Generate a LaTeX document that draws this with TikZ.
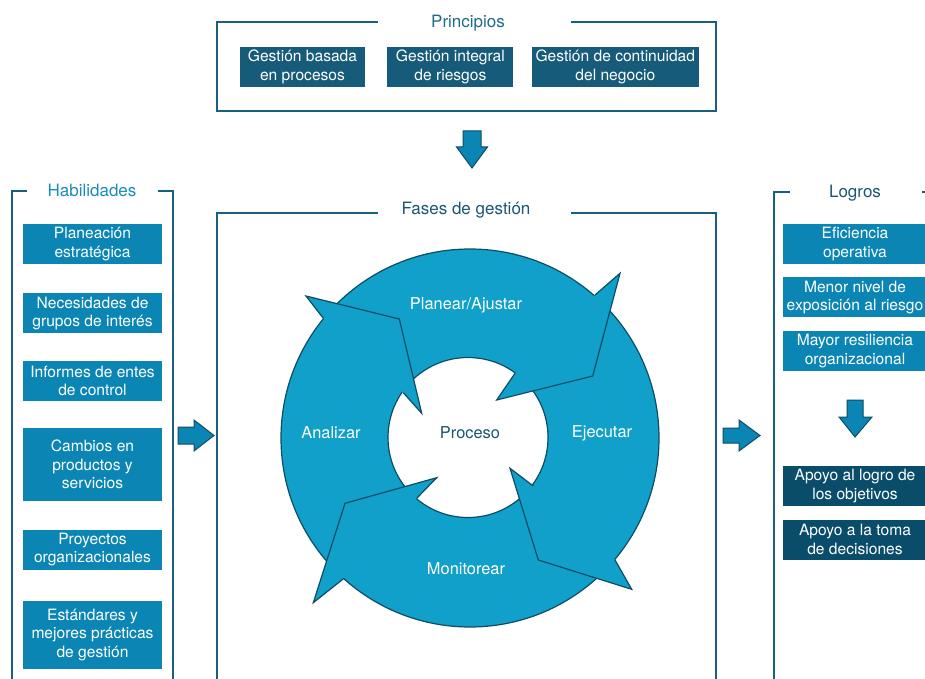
\documentclass[tikz,border=0pt]{standalone}
\usepackage{fontspec}
\setmainfont{TeX Gyre Heros}
\usetikzlibrary{positioning}
\definecolor{frameline}{HTML}{1A5F80}
\definecolor{principio}{HTML}{175B7A}
\definecolor{habilidad}{HTML}{0B86B4}
\definecolor{logrooscuro}{HTML}{0A4D6B}
\definecolor{ciclo}{HTML}{11A0C9}
\definecolor{cicloborde}{HTML}{0E4C66}
\definecolor{titulooscuro}{HTML}{1C5573}
\definecolor{titulomedio}{HTML}{1E6A8C}
\definecolor{tituloclaro}{HTML}{1B8BBA}

\begin{document}
\begin{tikzpicture}[
            x=1pt, y=-1pt,
            node distance=28pt,
            frame/.style = {draw=frameline, line width=2pt},
            title/.style = {font=\fontsize{17}{20}\selectfont, anchor=base},
            box/.style = {fill=habilidad, text=white, align=center, inner sep=0pt, minimum height=40pt, font=\fontsize{15.6}{18.5}\selectfont},
            phase/.style = {text=white, font=\fontsize{16.4}{19}\selectfont},
            bigarrow/.style = {fill=habilidad, draw=cicloborde, line width=1pt, line join=miter}
          ]
          \useasboundingbox (0,0) rectangle (925,679);

          % frames
          \draw[frame] (378,22) -- (217,22) -- (217,111) -- (716,111) -- (716,22) -- (571,22);
          \draw[frame] (378,213) -- (217,213) -- (217,690);
          \draw[frame] (571,213) -- (716,213) -- (716,690);
          \draw[frame] (27,191) -- (12,191) -- (12,690);
          \draw[frame] (158,191) -- (173,191) -- (173,690);
          \draw[frame] (790,192) -- (774,192) -- (774,690);
          \draw[frame] (922,192) -- (940,192);

          \node[title, text=titulomedio] (principios) at (468,28) {Principios};
          \node[title, text=titulooscuro] (fases) at (466,214) {Fases de gestión};
          \node[title, text=tituloclaro] (habilidades) at (92,196) {Habilidades};
          \node[title, text=titulooscuro] (logros) at (855,197) {Logros};

          % principios
          \node[box, fill=principio, minimum width=125pt] (basada) at (302.5,67) {Gestión basada\\en procesos};
          \node[box, fill=principio, minimum width=126pt, right=22pt of basada] (integral) {Gestión integral\\de riesgos};
          \node[box, fill=principio, minimum width=167pt, right=18pt of integral] (continuidad) {Gestión de continuidad\\del negocio};

          % habilidades
          \node[box, minimum width=139pt] (planeacion) at (92.5,244) {Planeación\\estratégica};
          \node[box, minimum width=139pt, below=29pt of planeacion] (necesidades) {Necesidades de\\grupos de interés};
          \node[box, minimum width=139pt, below=27pt of necesidades] (informes) {Informes de entes\\de control};
          \node[box, minimum width=139pt, minimum height=73pt, below=27pt of informes] (cambios) {Cambios en\\productos y\\servicios};
          \node[box, minimum width=139pt, below=28pt of cambios] (proyectos) {Proyectos\\organizacionales};
          \node[box, minimum width=139pt, minimum height=68pt, below=31pt of proyectos] (estandares) {Estándares y\\mejores prácticas\\de gestión};

          % logros
          \node[box, minimum width=144pt] (eficiencia) at (855,244) {Eficiencia\\operativa};
          \node[box, minimum width=144pt, below=13pt of eficiencia] (menor) {Menor nivel de\\exposición al riesgo};
          \node[box, minimum width=144pt, below=13pt of menor] (mayor) {Mayor resiliencia\\organizacional};
          \node[box, fill=logrooscuro, minimum width=144pt, below=95pt of mayor] (apoyologro) {Apoyo al logro de\\los objetivos};
          \node[box, fill=logrooscuro, minimum width=144pt, below=13pt of apoyologro] (apoyotoma) {Apoyo a la toma\\de decisiones};

          % block arrows
          \draw[bigarrow] (463,131) -- (481,131) -- (481,147) -- (487.5,147) -- (472,168) -- (456.5,147) -- (463,147) -- cycle;
          \draw[bigarrow] (178,427) -- (194,427) -- (194,420) -- (214,435.5) -- (194,451) -- (194,444) -- (178,444) -- cycle;
          \draw[bigarrow] (723,428) -- (739,428) -- (739,420) -- (760,435.5) -- (739,451) -- (739,443) -- (723,443) -- cycle;
          \draw[bigarrow] (847,400) -- (863,400) -- (863,417) -- (872,417) -- (855,437) -- (839,417) -- (847,417) -- cycle;

          % ciclo
          \filldraw[fill=ciclo, draw=cicloborde, line width=1.2pt, even odd rule] (470,438) circle (189) (468,437.5) circle (80);
          \fill[ciclo] (595,295) -- (620,273.3) -- (592.7,376) -- (496.7,400) -- (515,373.3) -- cycle;
          \draw[cicloborde, line width=1.2pt] (595,295) -- (620,273.3) -- (592.7,376) -- (496.7,400) -- (515,373.3);
          \fill[ciclo] (615,560) -- (631.7,589.3) -- (538.3,560) -- (510,468.3) -- (533.3,486) -- cycle;
          \draw[cicloborde, line width=1.2pt] (615,560) -- (631.7,589.3) -- (538.3,560) -- (510,468.3) -- (533.3,486);
          \fill[ciclo] (344,578.3) -- (313.3,602.7) -- (345,503.3) -- (436.7,477.7) -- (416.7,498.3) -- cycle;
          \draw[cicloborde, line width=1.2pt] (344,578.3) -- (313.3,602.7) -- (345,503.3) -- (436.7,477.7) -- (416.7,498.3);
          \fill[ciclo] (323.3,318.3) -- (306,296) -- (399.3,319) -- (421.7,413.3) -- (403.3,392.7) -- cycle;
          \draw[cicloborde, line width=1.2pt] (323.3,318.3) -- (306,296) -- (399.3,319) -- (421.7,413.3) -- (403.3,392.7);

          \node[phase] (planear) at (466,305) {Planear/Ajustar};
          \node[phase] (ejecutar) at (602,433) {Ejecutar};
          \node[phase] (monitorear) at (466,569) {Monitorear};
          \node[phase] (analizar) at (331,433) {Analizar};
          \node[phase, text=titulooscuro] (proceso) at (470,433) {Proceso};
        \end{tikzpicture}
\end{document}
